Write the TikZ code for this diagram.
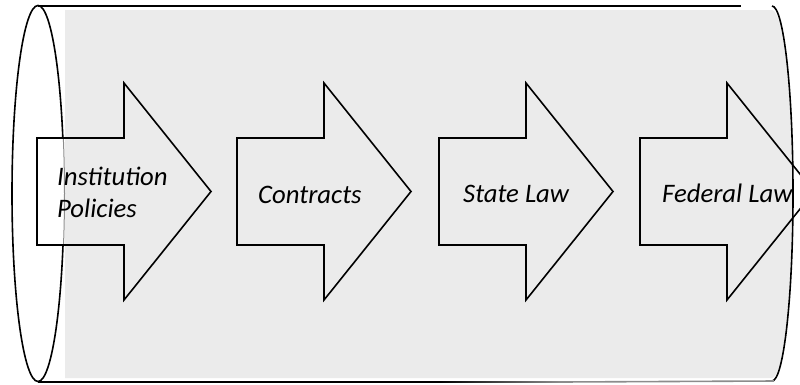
\documentclass[tikz,border=0pt]{standalone}
\usepackage{fontspec}
\setmainfont{Carlito}
\definecolor{tubefill}{RGB}{235,235,235}
\definecolor{edgegray}{RGB}{140,140,140}
\begin{document}
\begin{tikzpicture}[x=1pt,y=-1pt,line join=miter,
  outline/.style={draw=black,line width=1.6pt},
  stagearrow/.style={draw=black,line width=1.6pt},
  stagelabel/.style={font=\fontsize{26.7}{32}\selectfont\itshape,anchor=base west,inner sep=0pt,align=left}]
\useasboundingbox (0,0) rectangle (800,384);
\begin{scope}
\clip (0,0) rectangle (800,384);
% body of the tube
\fill[tubefill] (65,10) -- (772,10)
  arc[start angle=-90,end angle=90,x radius=20,y radius=184] -- (65,378) -- cycle;
% left end face
\draw[outline] (38,193.5) ellipse[x radius=26,y radius=188];
% right end
\draw[outline] (772,6) arc[start angle=-90,end angle=90,x radius=21,y radius=187.5];
% top and bottom edges
\draw[outline] (38,6) -- (741,6);
\draw[outline] (38,382) -- (440,382);
\shade[left color=black,right color=edgegray] (440,381.2) rectangle (560,382.8);
\draw[line width=1.6pt,edgegray] (560,382) -- (774,381);
% the face edge shows faintly through the first arrow
\begin{scope}
  \clip (38,139) rectangle (122,244);
  \fill[white] (30,139) rectangle (65,244);
  \draw[edgegray,line width=1pt] (38,193.5) ellipse[x radius=26.5,y radius=188];
\end{scope}
% stage arrows
\foreach \L in {37,237,439,640}{
  \draw[stagearrow] (\L,138) -- ++(87,0) -- ++(0,-55) -- ++(87,108.5)
    -- ++(-87,108.5) -- ++(0,-55) -- (\L,245) -- cycle;
}
\end{scope}
% stage labels
\node[stagelabel] (inst) at (57,217) {Institution\\Policies};
\node[stagelabel] (contr) at (258,203) {Contracts};
\node[stagelabel] (state) at (463,202) {State Law};
\node[stagelabel] (fed) at (662,202) {Federal Law};
\end{tikzpicture}
\end{document}
